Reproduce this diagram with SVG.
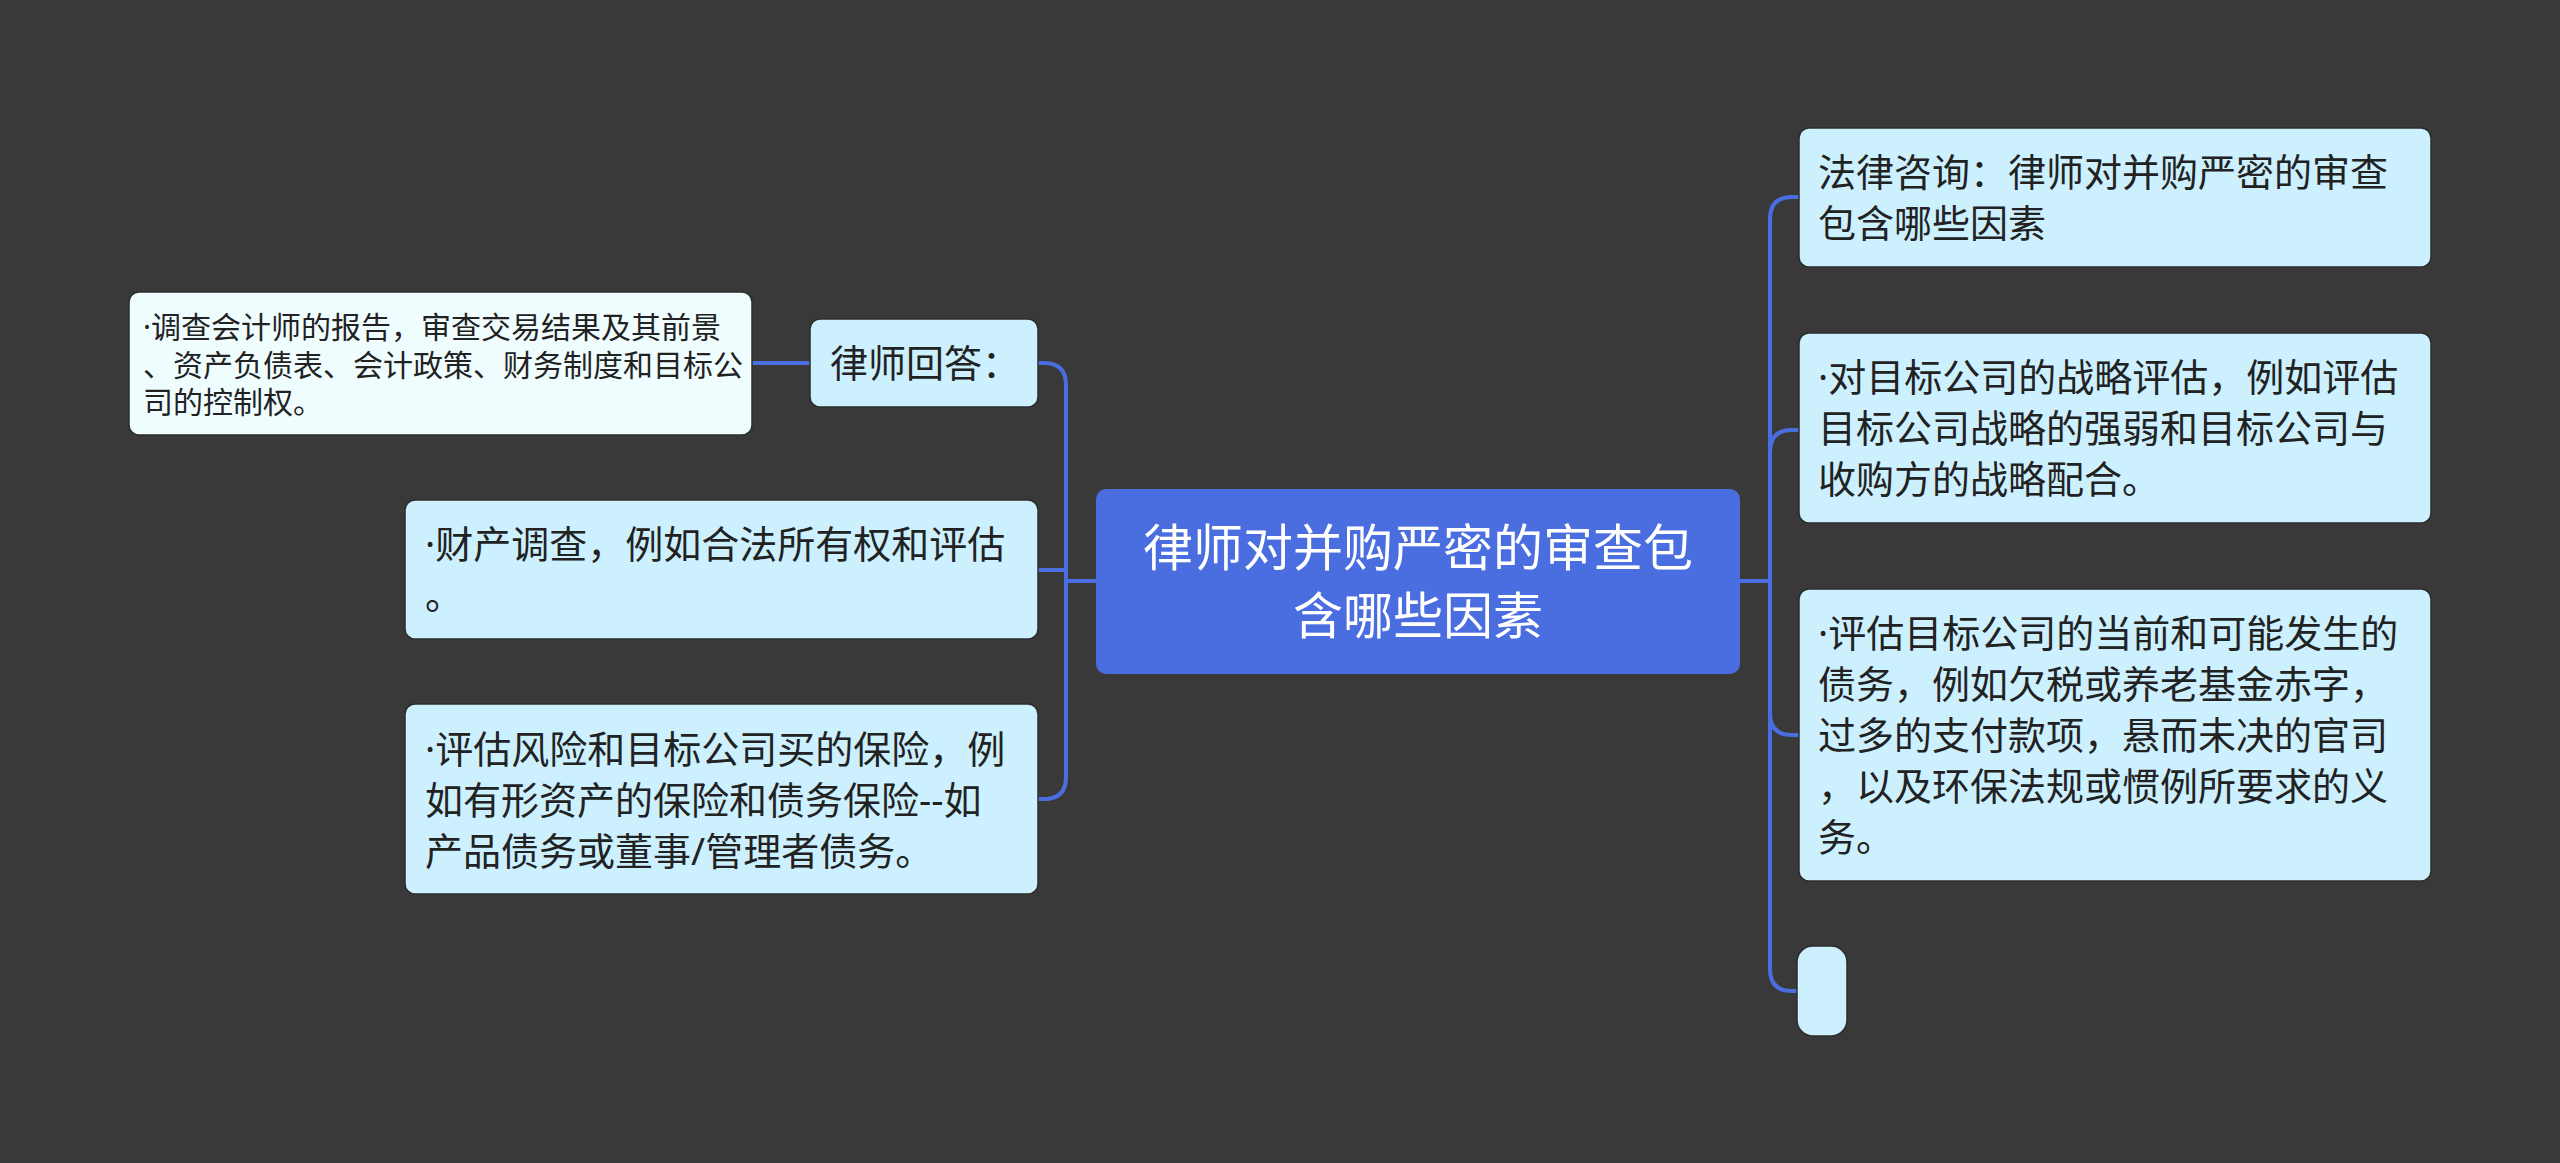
<svg xmlns="http://www.w3.org/2000/svg" width="2560" height="1163" viewBox="0 0 2560 1163">
<style>
.bg{fill:#3a393a}
.node{fill:#ccf0fe;stroke:#2c2c2c;stroke-width:1.5}
.leaf{fill:#f0fdff;stroke:#2c2c2c;stroke-width:1.5}
.root{fill:#4a6ee0}
.t{font-family:"Noto Sans","Noto Sans CJK SC",sans-serif;fill:#222222}
.t38{font-size:38px}
.t30{font-size:30px}
.rt{font-family:"Noto Sans CJK SC","Noto Sans",sans-serif;font-size:50px;fill:#ffffff;text-anchor:middle}
.conn path{fill:none;stroke:#4a6ee0;stroke-width:4;stroke-linecap:round;stroke-linejoin:round}
</style>
<rect class="bg" x="0" y="0" width="2560" height="1163"/>
<g id="connectors" class="conn">
<path d="M1096 581 H1066 V385 Q1066 363 1044 363 H1038"/>
<path d="M1096 581 H1066 V570 H1038"/>
<path d="M1096 581 H1066 V777 Q1066 799 1044 799 H1038"/>
<path d="M752 363 H810"/>
<path d="M1740 581 H1770 V219 Q1770 197 1792 197 H1799"/>
<path d="M1740 581 H1770 V452 Q1770 430 1792 430 H1799"/>
<path d="M1740 581 H1770 V713 Q1770 735 1792 735 H1799"/>
<path d="M1740 581 H1770 V969 Q1770 991 1792 991 H1797"/>
</g>
<g id="root">
<rect class="root" x="1096" y="489" width="644" height="185" rx="10"/>
<text class="rt" x="1418" y="566">律师对并购严密的审查包</text>
<text class="rt" x="1418" y="634">含哪些因素</text>
</g>
<g id="n-answer">
<rect class="node" x="810" y="319" width="228" height="88" rx="10"/>
<text class="t t38" x="830" y="377">律师回答：</text>
</g>
<g id="n-answer-leaf">
<rect class="leaf" x="129" y="292" width="623" height="143" rx="10"/>
<text class="t t30" x="143" y="338">·调查会计师的报告，审查交易结果及其前景</text>
<text class="t t30" x="143" y="376">、资产负债表、会计政策、财务制度和目标公</text>
<text class="t t30" x="143" y="413">司的控制权。</text>
</g>
<g id="n-property">
<rect class="node" x="405" y="500" width="633" height="139" rx="10"/>
<text class="t t38" x="425" y="558">·财产调查，例如合法所有权和评估</text>
<text class="t t38" x="425" y="609">。</text>
</g>
<g id="n-risk">
<rect class="node" x="405" y="704" width="633" height="190" rx="10"/>
<text class="t t38" x="425" y="763">·评估风险和目标公司买的保险，例</text>
<text class="t t38" x="425" y="814">如有形资产的保险和债务保险--如</text>
<text class="t t38" x="425" y="865">产品债务或董事/管理者债务。</text>
</g>
<g id="n-consult">
<rect class="node" x="1799" y="128" width="632" height="139" rx="10"/>
<text class="t t38" x="1818" y="186">法律咨询：律师对并购严密的审查</text>
<text class="t t38" x="1818" y="237">包含哪些因素</text>
</g>
<g id="n-strategy">
<rect class="node" x="1799" y="333" width="632" height="190" rx="10"/>
<text class="t t38" x="1818" y="391">·对目标公司的战略评估，例如评估</text>
<text class="t t38" x="1818" y="442">目标公司战略的强弱和目标公司与</text>
<text class="t t38" x="1818" y="493">收购方的战略配合。</text>
</g>
<g id="n-debt">
<rect class="node" x="1799" y="589" width="632" height="292" rx="10"/>
<text class="t t38" x="1818" y="647">·评估目标公司的当前和可能发生的</text>
<text class="t t38" x="1818" y="698">债务，例如欠税或养老基金赤字，</text>
<text class="t t38" x="1818" y="749">过多的支付款项，悬而未决的官司</text>
<text class="t t38" x="1818" y="800">，以及环保法规或惯例所要求的义</text>
<text class="t t38" x="1818" y="851">务。</text>
</g>
<g id="n-empty">
<rect class="node" x="1797" y="946" width="50" height="90" rx="16"/>
</g>
</svg>
